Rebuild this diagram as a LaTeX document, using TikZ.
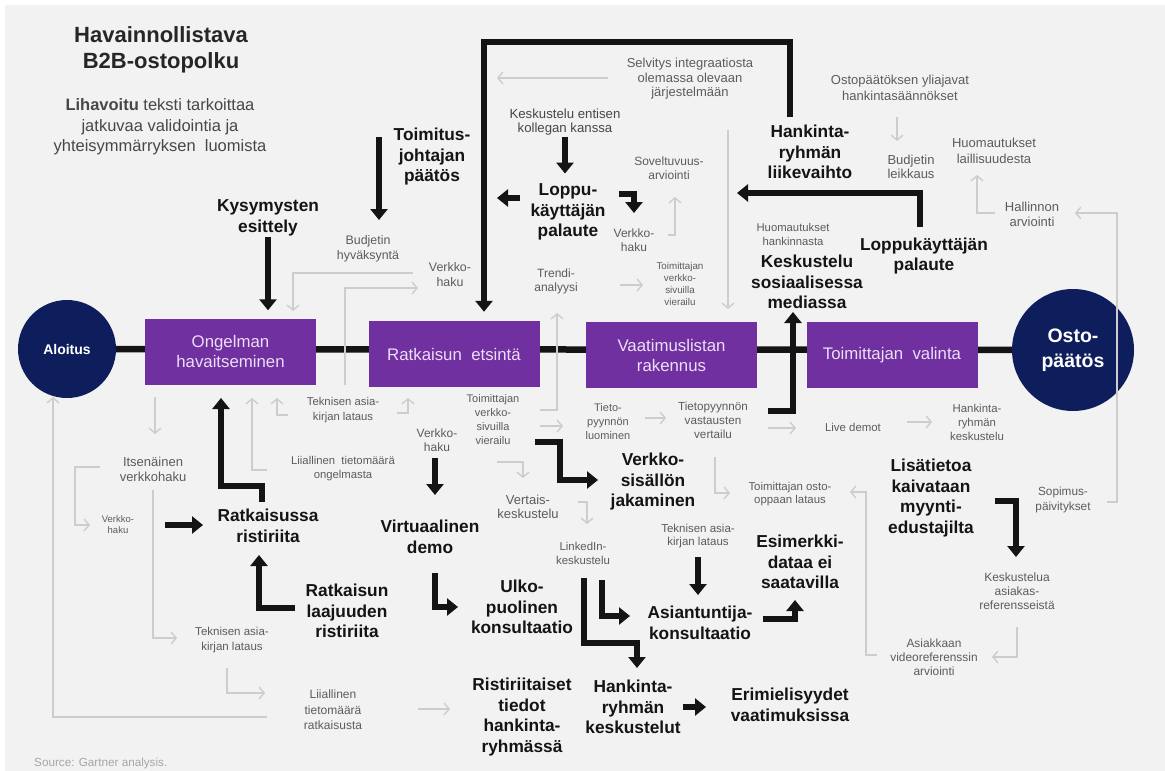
\documentclass[tikz,border=0pt]{standalone}
\usepackage{fontspec}
\setmainfont{Liberation Sans}
\usetikzlibrary{arrows.meta, positioning, backgrounds}
\definecolor{stagepurple}{RGB}{112,48,160}
\definecolor{stagetext}{RGB}{236,222,246}
\definecolor{endnavy}{RGB}{14,30,92}
\definecolor{paper}{RGB}{242,242,242}
\definecolor{faintline}{RGB}{205,205,205}
\colorlet{notegray}{black!64}
\colorlet{inkblack}{black!92}

\tikzset{
  stage/.style={rectangle, fill=stagepurple, text=stagetext, minimum width=171pt,
    minimum height=66pt, inner sep=0pt, align=center, font=\fontsize{16.8}{20}\selectfont},
  endpoint/.style={circle, fill=endnavy, text=white, inner sep=0pt, align=center},
  titletext/.style={align=center, text=black!85, font=\bfseries\fontsize{22}{26}\selectfont},
  legendtext/.style={align=center, text=black!72, font=\fontsize{16.5}{20.5}\selectfont},
  keylabel/.style={align=center, text=inkblack, inner sep=1pt, font=\bfseries\fontsize{17.3}{20.5}\selectfont},
  note/.style 2 args={align=center, text=notegray, inner sep=1pt, font=\fontsize{#1}{#2}\selectfont},
  mainflow/.style={line width=6.5pt, inkblack},
  bigarrow/.style={line width=6pt, inkblack, -{Triangle[width=17pt,length=11pt]}},
  faintarrow/.style={line width=1.4pt, faintline, -{Straight Barb[length=5pt,width=12pt]}}
}

\begin{document}
\begin{tikzpicture}[x=1pt, y=-1pt]
  \useasboundingbox (0,0) rectangle (1165,771);

  % title and legend
  \node[titletext] (title) at (161,50) {Havainnollistava\\B2B-ostopolku};
  \node[legendtext] (legend) at (160,127) {\textbf{Lihavoitu} teksti tarkoittaa\\jatkuvaa validointia ja\\yhteisymmärryksen\ \ luomista};

  % stages of the path
  \node[endpoint, minimum size=98pt, font=\bfseries\fontsize{14}{16}\selectfont] (aloitus) at (67,349) {Aloitus};
  \node[stage] (ongelma) at (230.5,351.5) {Ongelman\\havaitseminen};
  \node[stage] (ratkaisu) at (454,354) {Ratkaisun\ \ etsintä};
  \node[stage] (vaatimus) at (671.5,355) {Vaatimuslistan\\rakennus};
  \node[stage] (valinta) at (892,355) {Toimittajan\ \ valinta};
  \node[endpoint, minimum size=122pt, font=\bfseries\fontsize{19.5}{25}\selectfont] (osto) at (1073,350) {Osto-\\päätös};

  \begin{scope}[on background layer]
    \fill[white] (0,0) rectangle (1165,771);
    \fill[paper] (5,5) rectangle (1165,771);
    \draw[mainflow] (aloitus.center) -- (osto.center);
  \end{scope}

  % bold labels
  \node[keylabel] (kysym) at (268,218) {Kysymysten\\esittely};
  \node[keylabel] (toimjoht) at (432,157) {Toimitus-\\johtajan\\päätös};
  \node[keylabel] (loppu1) at (568,212) {Loppu-\\käyttäjän\\palaute};
  \node[keylabel] (hankliike) at (810,152) {Hankinta-\\ryhmän\\liikevaihto};
  \node[keylabel] (loppu2) at (924,256) {Loppukäyttäjän\\palaute};
  \node[keylabel] (somekesk) at (807,282) {Keskustelu\\sosiaalisessa\\mediassa};
  \node[keylabel] (ristiriita) at (268,526) {Ratkaisussa\\ristiriita};
  \node[keylabel] (laajuus) at (347,611) {Ratkaisun\\laajuuden\\ristiriita};
  \node[keylabel] (virtdemo) at (430,537) {Virtuaalinen\\demo};
  \node[keylabel] (ulkokons) at (522,607) {Ulko-\\puolinen\\konsultaatio};
  \node[keylabel] (verkkosis) at (653,482) {Verkko-\\sisällön\\jakaminen};
  \node[keylabel] (asiantkons) at (700,623) {Asiantuntija-\\konsultaatio};
  \node[keylabel] (esimdata) at (800,562) {Esimerkki-\\dataa ei\\saatavilla};
  \node[keylabel] (lisatieto) at (931,498) {Lisätietoa\\kaivataan\\myynti-\\edustajilta};
  \node[keylabel] (ristitiedot) at (522,717) {Ristiriitaiset\\tiedot\\hankinta-\\ryhmässä};
  \node[keylabel] (hankkesk) at (633,707) {Hankinta-\\ryhmän\\keskustelut};
  \node[keylabel] (erimiel) at (790,705) {Erimielisyydet\\vaatimuksissa};

  % grey notes
  \node[note={12.4}{15}] (budjhyv) at (368,249) {Budjetin\\hyväksyntä};
  \node[note={12.4}{15}] (verkko1) at (450,275) {Verkko-\\haku};
  \node[note={13}{14.5}] (selvitys) at (690,79) {Selvitys\ integraatiosta\\olemassa olevaan\\järjestelmään};
  \node[note={13.2}{14.5}, text=black!72] (kollega) at (565,122) {Keskustelu entisen\\kollegan kanssa};
  \node[note={12}{14.5}] (soveltuvuus) at (669,168) {Soveltuvuus-\\arviointi};
  \node[note={12}{14.5}] (verkko2) at (634,240) {Verkko-\\haku};
  \node[note={12}{14}] (trendi) at (556,281) {Trendi-\\analyysi};
  \node[note={9.8}{11.8}] (toimverkko1) at (680,284) {Toimittajan\\verkko-\\sivuilla\\vierailu};
  \node[note={13}{16}] (ostopaat) at (900,88) {Ostopäätöksen yliajavat\\hankintasäännökset};
  \node[note={13}{14.5}] (budjleik) at (911,167) {Budjetin\\leikkaus};
  \node[note={13}{16}] (laillisuus) at (994,151) {Huomautukset\\laillisuudesta};
  \node[note={13}{15}] (hallinto) at (1032,214) {Hallinnon\\arviointi};
  \node[note={11.3}{14}] (hankinnasta) at (793,234) {Huomautukset\\hankinnasta};
  \node[note={13}{15}] (itsverkko) at (153,469) {Itsenäinen\\verkkohaku};
  \node[note={9.5}{11}] (verkko3) at (118,525) {Verkko-\\haku};
  \node[note={11.3}{15}] (tekn1) at (343,410) {Teknisen asia-\\kirjan lataus};
  \node[note={12}{14}] (verkko4) at (437,440) {Verkko-\\haku};
  \node[note={11.3}{14}] (liiall1) at (343,469) {Liiallinen\ \ tietomäärä\\ongelmasta};
  \node[note={11.5}{15}] (tekn2) at (232,640) {Teknisen asia-\\kirjan lataus};
  \node[note={12}{15.5}] (liiall2) at (333,710) {Liiallinen\\tietomäärä\\ratkaisusta};
  \node[note={11}{14}] (toimverkko2) at (493,420) {Toimittajan\\verkko-\\sivuilla\\vierailu};
  \node[note={13}{14}] (vertais) at (528,507) {Vertais-\\keskustelu};
  \node[note={11}{14}] (tietoluo) at (608,422) {Tieto-\\pyynnön\\luominen};
  \node[note={11.7}{14}] (tietovert) at (713,420) {Tietopyynnön\\vastausten\\vertailu};
  \node[note={11.4}{13.5}] (toimopas) at (790,494) {Toimittajan\ osto-\\oppaan lataus};
  \node[note={11.4}{14}] (livedemot) at (853,427) {Live demot};
  \node[note={11.4}{14}] (hankkesk1) at (977,422) {Hankinta-\\ryhmän\\keskustelu};
  \node[note={11.8}{15}] (sopimus) at (1063,500) {Sopimus-\\päivitykset};
  \node[note={11.4}{14}] (linkedin) at (583,553) {LinkedIn-\\keskustelu};
  \node[note={11.5}{13.5}] (tekn3) at (698,536) {Teknisen asia-\\kirjan lataus};
  \node[note={12}{14}] (asiakasref) at (1017,591) {Keskustelua\\asiakas-\\referensseistä};
  \node[note={11.9}{14}] (videoref) at (934,657) {Asiakkaan\\videoreferenssin\\arviointi};
  \node[note={11.7}{14}, text=black!35, anchor=west] (source) at (33,763) {Source: Gartner analysis.};

  % free ends of the black connectors
  \coordinate (toimA) at (379,137);
  \coordinate (frameA) at (790,117);
  \coordinate (frameB) at (484,42);
  \coordinate (lpA) at (520,198);
  \coordinate (lpB) at (619,194);
  \coordinate (lp2A) at (920,227);
  \coordinate (someA) at (768,411);
  \coordinate (ristA) at (262,502);
  \coordinate (vhA) at (165,525);
  \coordinate (laajA) at (295,608);
  \coordinate (vh4A) at (435,458);
  \coordinate (vierA) at (535,442);
  \coordinate (demoA) at (435,573);
  \coordinate (tekA) at (698,557);
  \coordinate (linkA) at (602,580);
  \coordinate (linkB) at (584,578);
  \coordinate (asiaA) at (763,619);
  \coordinate (hkA) at (683,707);
  \coordinate (lisaA) at (995,501);

  \draw[bigarrow, shorten >=8pt] (kysym) -- (kysym |- ongelma.north);
  \draw[bigarrow] (toimA) -- ++(0,83);
  \draw[bigarrow, shorten >=9pt] (frameA) |- (frameB) -- (frameB |- ratkaisu.north);
  \draw[bigarrow, shorten >=9pt] (kollega) -- (kollega |- loppu1.north);
  \draw[bigarrow] (lpA) -- ++(-23,0);
  \draw[bigarrow] (lpB) -| ++(15,19);
  \draw[bigarrow] (lp2A) |- ++(-183,-34);
  \draw[bigarrow] (someA) -| ++(25,-99);
  \draw[bigarrow] (ristA) -- ++(0,-16) -| ++(-41,-88);
  \draw[bigarrow] (vhA) -- ++(38,0);
  \draw[bigarrow] (laajA) -| ++(-36,-53);
  \draw[bigarrow] (vh4A) -- ++(0,37);
  \draw[bigarrow] (vierA) -- ++(25,0) |- ++(38,38);
  \draw[bigarrow] (demoA) |- ++(23,34);
  \draw[bigarrow] (tekA) -- ++(0,38);
  \draw[bigarrow] (linkA) |- ++(28,36);
  \draw[bigarrow] (linkB) |- ++(53,65) -- ++(0,25);
  \draw[bigarrow] (asiaA) -| ++(32,-19);
  \draw[bigarrow] (hkA) -- ++(23,0);
  \draw[bigarrow] (lisaA) -| ++(21,56);

  % free ends of the grey connectors
  \coordinate (selvA) at (608,78);
  \coordinate (sovA) at (668,235);
  \coordinate (trA) at (620,285);
  \coordinate (longA) at (728,130);
  \coordinate (ostoA) at (897,117);
  \coordinate (lailA) at (995,213);
  \coordinate (hallA) at (1107,502);
  \coordinate (budA) at (413,273);
  \coordinate (hvA) at (345,385);
  \coordinate (ongA) at (155,397);
  \coordinate (o1A) at (267,470);
  \coordinate (o2A) at (288,415);
  \coordinate (o3A) at (397,413);
  \coordinate (itsA) at (100,467);
  \coordinate (itsB) at (153,490);
  \coordinate (tkA) at (227,668);
  \coordinate (outA) at (267,717);
  \coordinate (rA) at (540,410);
  \coordinate (rB) at (540,426);
  \coordinate (vA) at (497,462);
  \coordinate (vB) at (578,502);
  \coordinate (tpA) at (645,418);
  \coordinate (tvA) at (768,428);
  \coordinate (tvB) at (715,457);
  \coordinate (lisB) at (877,655);
  \coordinate (ldA) at (907,422);
  \coordinate (arA) at (1017,627);
  \coordinate (liA) at (418,709);

  \draw[faintarrow] (selvA) -- ++(-111,0);
  \draw[faintarrow] (sovA) -| ++(7,-38);
  \draw[faintarrow] (trA) -- ++(23,0);
  \draw[faintarrow] (longA) -- ++(0,179);
  \draw[faintarrow] (ostoA) -- ++(0,24);
  \draw[faintarrow] (lailA) -| ++(-18,-38);
  \draw[faintarrow] (hallA) -- ++(10,0) |- ++(-42,-289);
  \draw[faintarrow] (budA) -| ++(-120,38);
  \draw[faintarrow] (hvA) |- ++(73,-97);
  \draw[faintarrow] (ongA) -- ++(0,37);
  \draw[faintarrow] (o1A) -| ++(-15,-72);
  \draw[faintarrow] (o2A) -| ++(-11,-17);
  \draw[faintarrow] (o3A) -| ++(11,-15);
  \draw[faintarrow] (itsA) -| ++(-25,58) -- ++(15,0);
  \draw[faintarrow] (itsB) |- ++(24,148);
  \draw[faintarrow] (tkA) |- ++(38,25);
  \draw[faintarrow] (outA) -| ++(-214,-320);
  \draw[faintarrow] (rA) -| ++(17,-97);
  \draw[faintarrow] (rB) -- ++(23,0);
  \draw[faintarrow] (vA) -| ++(26,16);
  \draw[faintarrow] (vB) -| ++(9,22);
  \draw[faintarrow] (tpA) -- ++(21,0);
  \draw[faintarrow] (tvA) -- ++(28,0);
  \draw[faintarrow] (tvB) |- ++(15,36);
  \draw[faintarrow] (lisB) -- ++(-11,0) |- ++(-16,-163);
  \draw[faintarrow] (ldA) -- ++(25,0);
  \draw[faintarrow] (arA) |- ++(-25,30);
  \draw[faintarrow] (liA) -- ++(32,0);
\end{tikzpicture}
\end{document}
